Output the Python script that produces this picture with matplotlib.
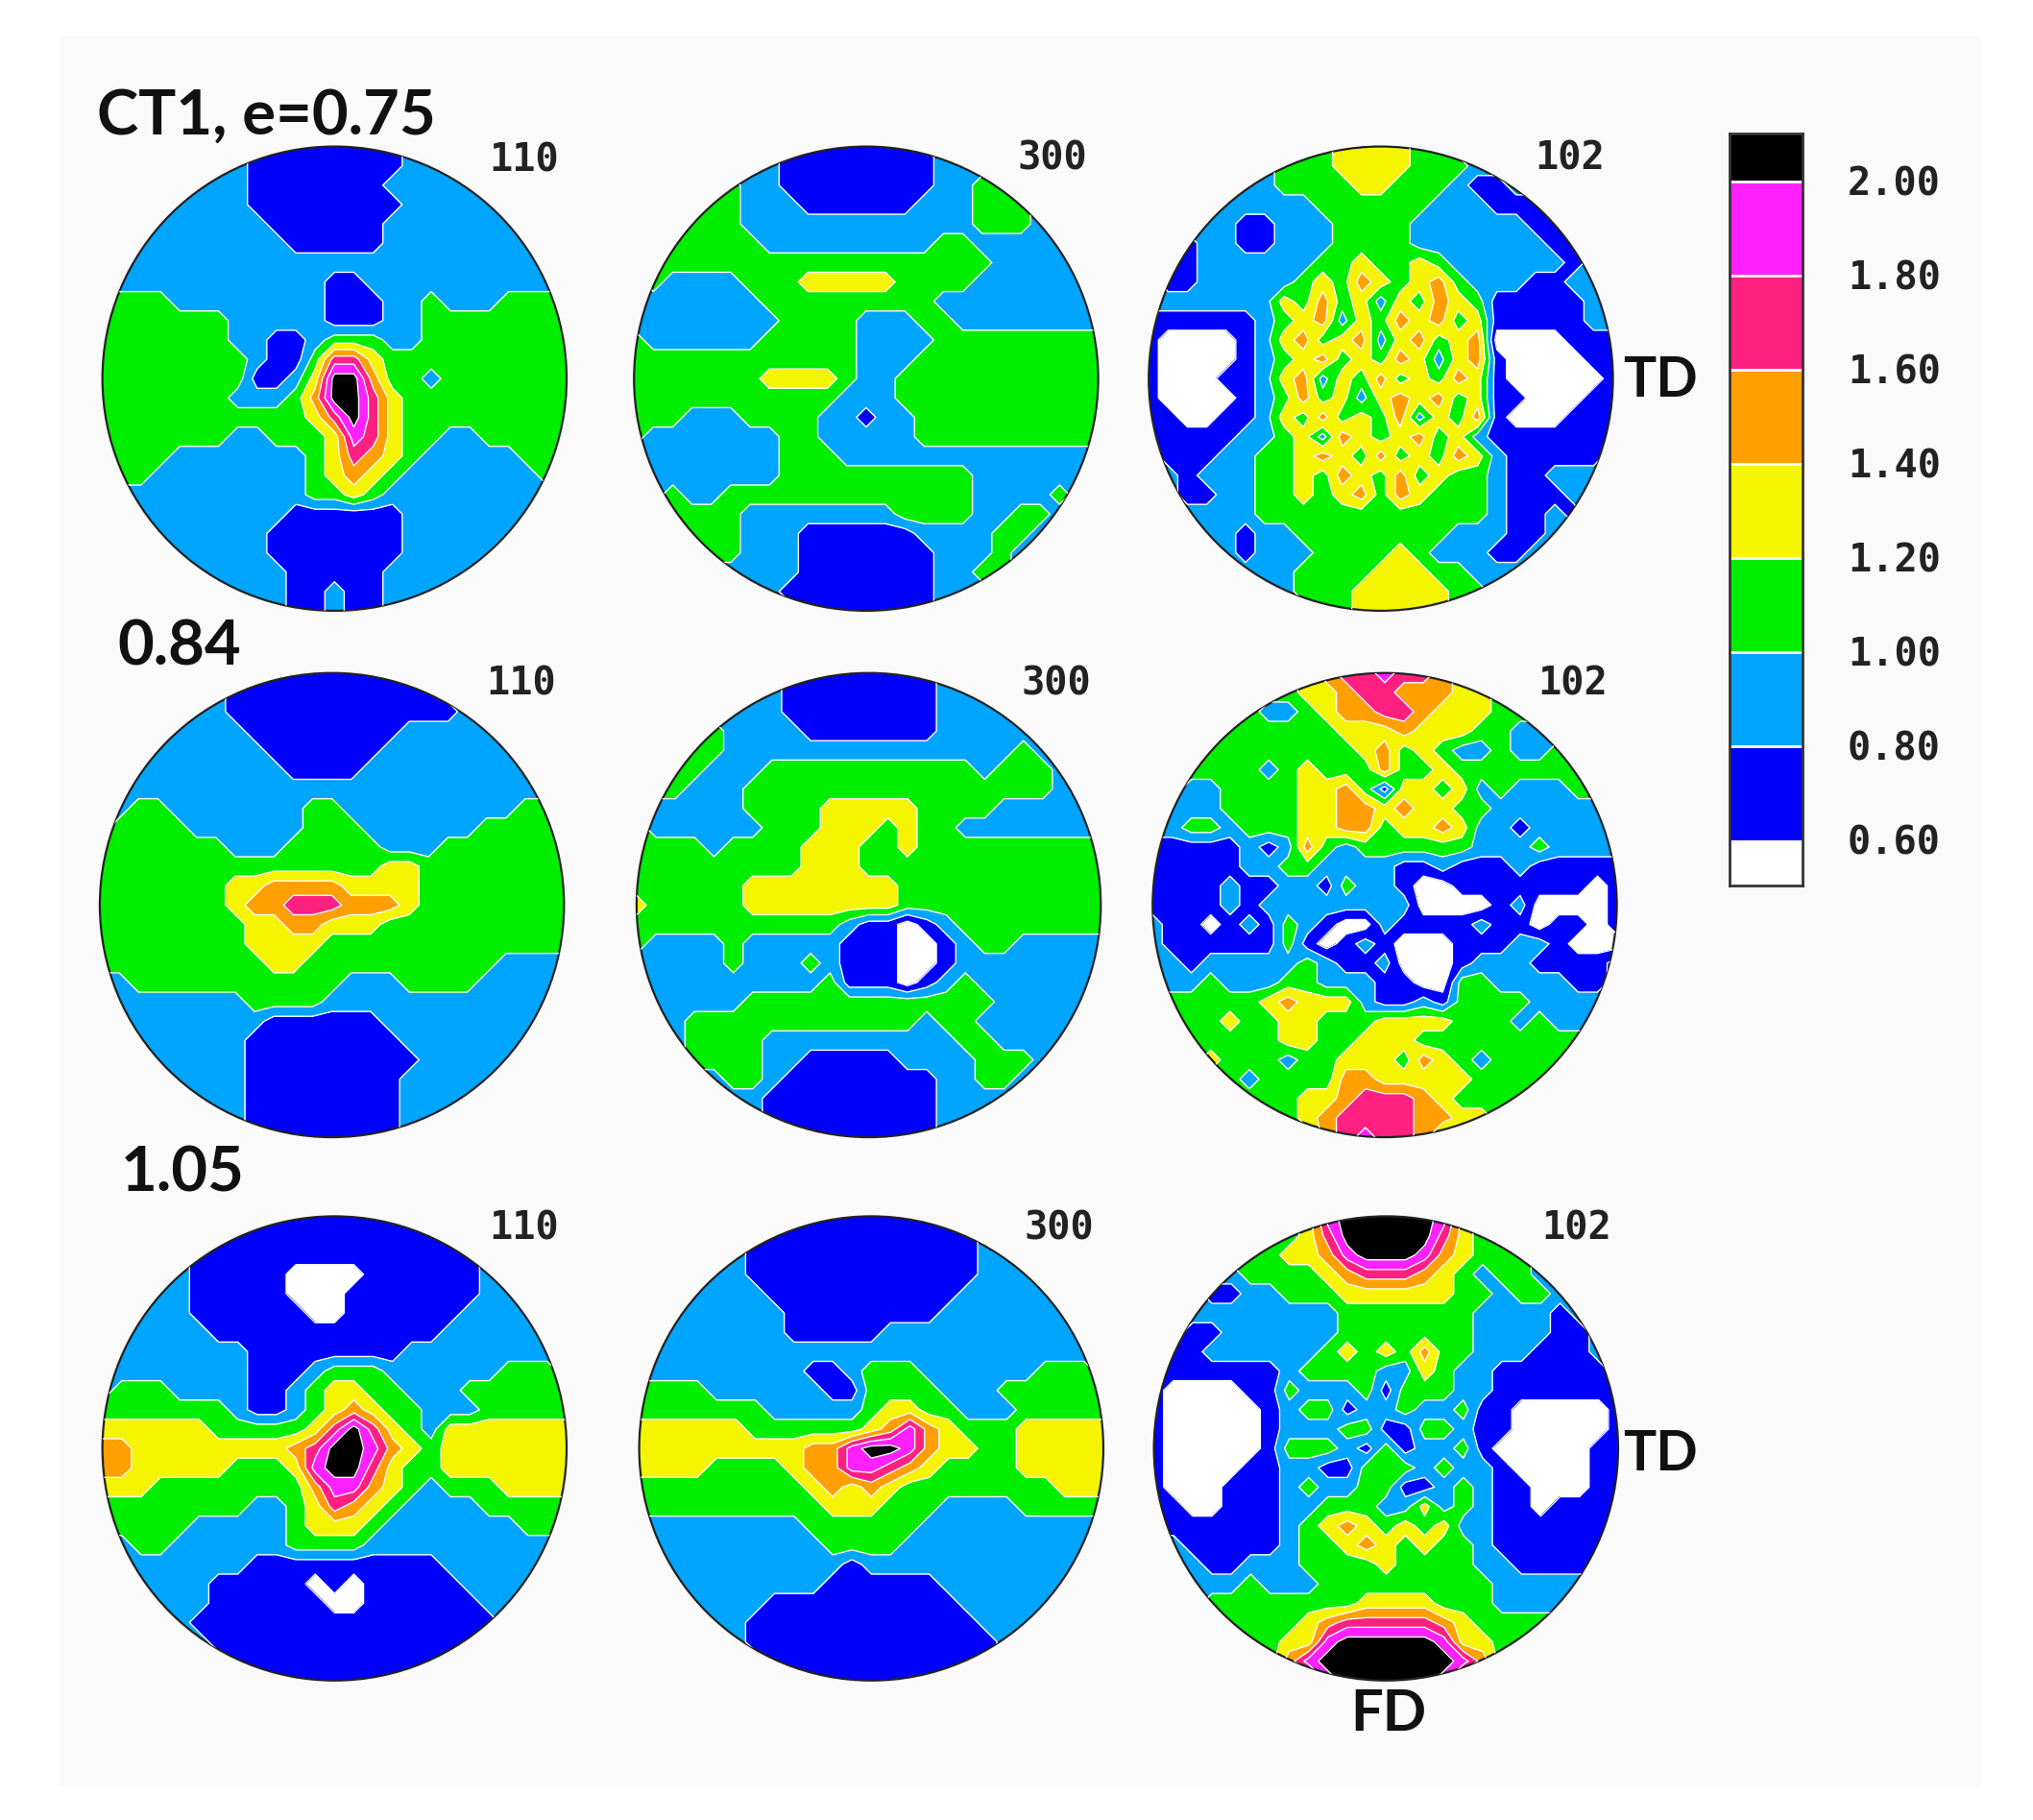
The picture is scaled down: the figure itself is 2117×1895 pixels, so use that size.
import matplotlib
matplotlib.use("Agg")
import matplotlib.pyplot as plt
from matplotlib.patches import Circle, Rectangle
import numpy as np

# pole figures read off on a 25x25 grid, top row first
# each digit is the contour band: 0 <0.6, 1 0.6-0.8, 2 0.8-1.0 ... 8 >2.0
pf_a = ["2222222211111111222222222", "2222222211111111222222222", "2222222211111112222222222",
        "2222222211111111222222222", "2222222221111112222222222", "2222222222111112222222222",
        "2222222222222222222222222", "2222222222221122222222222", "3333222222221112232223333",
        "3333333222221112233333333", "3333333221123332233333333", "3333333321136643333333333",
        "3333333311248853323333333", "3333333222358864333333333", "3333333333346864333333333",
        "3333333223334764332233333", "3333222222234654322222333", "3332222222234543222222233",
        "2222222222233432222222222", "2222222222111111222222222", "2222222221111111222222222",
        "2222222221111111222222222", "2222222222111112222222222", "2222222222112112222222222",
        "2222222222112112222222222"]
pf_b = ["2222222211111111222222222", "2222222211111111222222222", "2222232211111111223322222",
        "2223332221111112223332222", "2233332222222222223332222", "2333333222222222332222222",
        "2333333333333333333222222", "2322223334444433332222222", "2222222333333333222222222",
        "2222222233332223322222222", "3222222333332222333333333", "3333333333332223333333333",
        "3333333444432233333333333", "3333333333322233333333333", "3332223333221223333333333",
        "3222222233222223333333333", "2222222233322222222222222", "2222222233333333332222222",
        "2232233333333333332222322", "2233332222222233332233222", "2223332221111112222332222",
        "2222332221111111222322222", "2222222221111111223322222", "2222222211111111222222222",
        "2222222221111111222222222"]
pf_c = ["2222222233444433222222222", "2222222333444433322222222", "2222222333344333211222222",
        "2222222223333332221112222", "2222211222333322222211222", "2212211222333322222221122",
        "2212222223343343222222122", "2112222234354345322211222", "2222222435342435431111122",
        "1111112345243545341111122", "1000012453452453450000111", "1000012345343542451000011",
        "1000112452435343541000001", "1000012353424545341100011", "1100112435343524351000111",
        "1111122342543453421111111", "2111223345435343542111112", "2212223343543534332112222",
        "2211223343453543332111222", "2222223333333333332112122", "2222212233333333222112222",
        "2222212223333432221122222", "2222222233334443322222222", "2222222233344444332222222",
        "2222222223344444322222222"]
pf_d = ["2222222111111111112222222", "2222222111111111112222222", "2222222111111111111222222",
        "2222222211111111222222222", "2222222221111112222222222", "2222222222111122222222222",
        "2222222222222222222222222", "2233222222233222222222332", "2333322222233322222233332",
        "3333333222333332223333333", "3333333333333334433333333", "3333333445555444433333333",
        "3333333455666555433333333", "3333333344554443333333333", "3333333344443333333333333",
        "3333333334433333333332222", "2233333333333222333322222", "2222222233332222222222222",
        "2222222221111112222222222", "2222222211111111222222222", "2222222211111111122222222",
        "2222222211111111222222222", "2222222211111111222222222", "2222222211111111222222222",
        "2222222211111111222222222"]
pf_e = ["2222222211111111222222222", "2222222211111111222222222", "2222222211111111222222222",
        "2223322221111111222222222", "2233322222222222222232222", "2233222333333333332333222",
        "2332223333333333333333222", "2222223333444443333222222", "3222222333444343322222222",
        "3333233334443343333333333", "3333333334443333333333333", "3333334444444433333333333",
        "4333334444444433333333333", "3333333333321101233333333", "3222232222211100123322222",
        "2222232223211100122222222", "2222222222311101232222222", "2222223333333333333222222",
        "2223333333333332332222222", "2223333222222222233222222", "2223333221111122223332222",
        "2222233211111111223322222", "2222222111111111222222222", "2222222111111111222222222",
        "2222222211111111222222222"]
pf_f = ["3333333345667665433333333", "3333333344566555443333333", "3333332234556654443333333",
        "3333333333444544433222333", "3333333333345343223223333", "3333332343335334333333333",
        "3322333344531443423222333", "3222333344554544332222223", "2233233344553445422122222",
        "1111121253233333322232222", "1111122332222112111211111", "1111211221322100111111101",
        "1111212222222200001200001", "2110121321002111121101101", "2111111310121000111221000",
        "2212222232112000122211112", "2223222332221100332222112", "3333334544421121333322222",
        "3333433443334444333232222", "3333333443344433333333333", "3334333233444354323333333",
        "3333323333554444433333333", "3333333344566654333333333", "3333333345666655443333333",
        "3333333335676653333333333"]
pf_g = ["2222222111111111112222222", "2222221111111111111222222", "2222211111111111111122222",
        "2222211111000011111122222", "2222211111000111111122222", "2222211111100111111222222",
        "2222221111111111112222222", "2222222211111111222222222", "2222222211123332222223332",
        "2333222211234433222333333", "3333333211234543322233333", "4444443333346864324444444",
        "5544444444568875434444444", "5544444333478864334444444", "4443333333357754323334444",
        "3333333322346543222233333", "3333322222344432222222333", "2233222222333322222222222",
        "2222222211111111112222222", "2222221111101011111222222", "2222221111110011111122222",
        "2222211111111111111112222", "2222221111111111111112222", "2222222111111111111222222",
        "2222222211111111112222222"]
pf_h = ["2222221111111111112222222", "2222221111111111112222222", "2222221111111111112222222",
        "2222221111111111112222222", "2222222111111111122222222", "2222222211111111222222222",
        "2222222211111222222222222", "2222222222222222222222222", "2222222221123332222223332",
        "3333222222113333222333333", "3333333222223443322233333", "4444443333334575433344444",
        "4444444445578875443344444", "4444333345577654333344444", "3333333334545433333333444",
        "3333333333444333222233333", "2222222223333332222222222", "2222222222333322222222222",
        "2222222222212222222222222", "2222222222111111222222222", "2222222111111111122222222",
        "2222221111111111112222222", "2222221111111111111222222", "2222222111111111111222222",
        "2222222211111111112222222"]
pf_i = ["3333333347888887433333333", "3333333346888886433333333", "2222333445788875433322222",
        "2222233334566654323322222", "2221122333444444332332222", "2222222222333333322221222",
        "2211222222333333322221122", "2112222223434353322211122", "2111111233332243221111112",
        "1000011322231333221111111", "1000001233122322311000001", "1000001222331133211000001",
        "1000001333213122310000011", "1000011221133323221000011", "1000111232233112321100011",
        "1100111223332242321101111", "1111111234543434221111111", "2211111233454343321111112",
        "2221122233334333322111112", "2222232223333333332222222", "2223333333344443332222222",
        "2223333345666665433333222", "3333333447888887443333333", "3333333578888888753333333",
        "3333333347888887433333333"]

band_levels = [0.6, 0.8, 1.0, 1.2, 1.4, 1.6, 1.8, 2.0]
band_colors = ["#ffffff", "#0000ff", "#00a5ff", "#00ee00", "#f5f500", "#ffa000", "#ff2080", "#ff20ff", "#000000"]
bar_labels = ["2.00", "1.80", "1.60", "1.40", "1.20", "1.00", "0.80", "0.60"]
pole_labels = ["110", "300", "102"]
strain_labels = ["CT1, e=0.75", "0.84", "1.05"]

W, H = 2117, 1895
S = 2117 / 1568  # numbers below were measured on a 1568 wide view

fig = plt.figure(figsize=(W / 100, H / 100), dpi=100, facecolor="white")
bg = fig.add_axes([0, 0, 1, 1])
bg.set_xlim(0, W)
bg.set_ylim(H, 0)
bg.axis("off")
bg.add_patch(Rectangle((62, 37), 2001, 1823, fc="#fafafa", ec="none"))


def to_grid(rows):
    cells = [[int(c) for c in r.ljust(25, r[-1])[:25]] for r in rows]
    return 0.5 + 0.2 * np.array(cells)  # middle of each band


def pole_figure(rows, cx, cy, r=179):
    cx, cy, r = cx * S, cy * S, r * S
    ax = fig.add_axes([(cx - r - 4) / W, 1 - (cy + r + 4) / H, (2 * r + 8) / W, (2 * r + 8) / H])
    m = 1 + 4 / r
    ax.set_xlim(-m, m)
    ax.set_ylim(-m, m)
    ax.axis("off")
    x = np.linspace(-1, 1, 25)
    y = np.linspace(1, -1, 25)
    z = to_grid(rows)
    edge = Circle((0, 0), 1, transform=ax.transData)
    cf = ax.contourf(x, y, z, levels=[0] + band_levels + [3], colors=band_colors)
    cf.set_clip_path(edge)
    cl = ax.contour(x, y, z, levels=band_levels, colors="#ffffff", linewidths=1.0)
    cl.set_clip_path(edge)
    ax.add_patch(Circle((0, 0), 1, fc="none", ec="#222222", lw=1.6))


panels = [pf_a, pf_b, pf_c, pf_d, pf_e, pf_f, pf_g, pf_h, pf_i]
centers = [(258, 292), (668, 292), (1065, 292),
           (256, 698), (670, 698), (1068, 698),
           (258, 1117), (672, 1117), (1069, 1117)]
for rows, c in zip(panels, centers):
    pole_figure(rows, c[0], c[1])

# small labels beside each circle
label_pos = [(404, 124), (812, 122), (1211, 122),
             (402, 527), (815, 527), (1213, 527),
             (404, 947), (817, 947), (1216, 947)]
for i, p in enumerate(label_pos):
    bg.text(p[0] * S, p[1] * S, pole_labels[i % 3], family="DejaVu Sans Mono", weight="bold", fontsize=29,
            ha="center", va="center", color="#222222", zorder=5)

for t, p in zip(strain_labels, [(75, 90), (91, 499), (93, 905)]):
    bg.text(p[0] * S, p[1] * S, t, family="Lato", weight="bold", fontsize=47, ha="left", va="center", color="#111111")
bg.text(1252 * S, 294 * S, "TD", family="Lato", weight="bold", fontsize=41, ha="left", va="center", color="#111111")
bg.text(1252 * S, 1122 * S, "TD", family="Lato", weight="bold", fontsize=41, ha="left", va="center", color="#111111")
bg.text(1071 * S, 1322 * S, "FD", family="Lato", weight="bold", fontsize=43, ha="center", va="center", color="#111111")

# colour key, one value unit is 362.5 px of the measured view
cb = fig.add_axes([1334 * S / W, 1 - 683 * S / H, 56 * S / W, 580 * S / H])
lo = 0.6 - 35 / 362.5
hi = 2.0 + 37 / 362.5
cb.set_xlim(0, 1)
cb.set_ylim(lo, hi)
edges = [lo] + band_levels + [hi]
for i in range(len(band_colors)):
    cb.bar(0.5, edges[i + 1] - edges[i], width=1, bottom=edges[i], color=band_colors[i], edgecolor="none")
for v in band_levels[1:]:
    cb.axhline(v, color="white", lw=2)
cb.set_xticks([])
cb.set_yticks([])
for s in cb.spines.values():
    s.set_color("#333333")
    s.set_linewidth(2)
for v, t in zip(band_levels[::-1], bar_labels):
    cb.annotate(t, (1, v), xycoords=("axes fraction", "data"), xytext=(1461 * S, -3), textcoords=("figure pixels", "offset pixels"),
                family="DejaVu Sans Mono", weight="bold", fontsize=29, ha="center", va="center", color="#222222")

fig.savefig("out.png", dpi=100)
